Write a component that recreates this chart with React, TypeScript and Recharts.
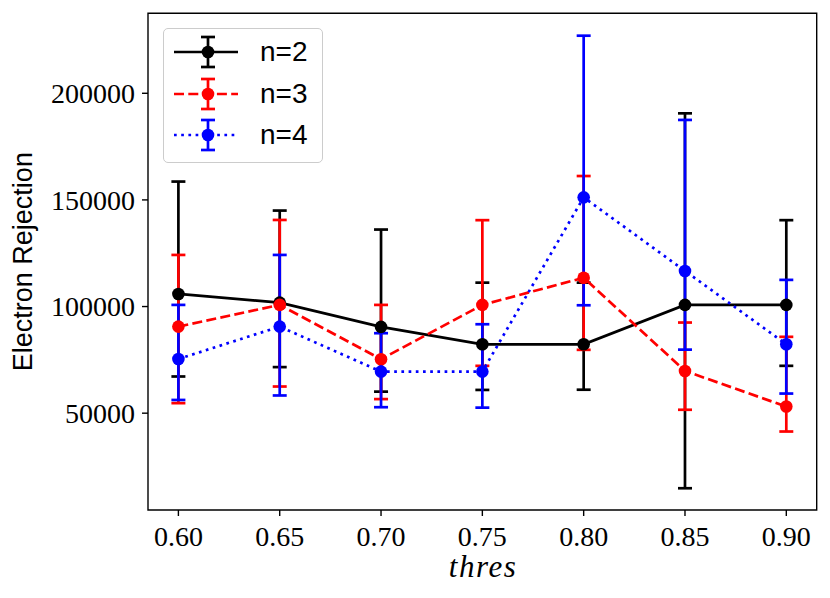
import { LineChart, Line, XAxis, YAxis, ErrorBar, Legend, ReferenceArea, Label } from 'recharts';

const thres = [0.6, 0.65, 0.7, 0.75, 0.8, 0.85, 0.9];

const n2 = [105900, 101840, 90450, 82300, 82300, 100770, 100770];
const n2Low = [67200, 71600, 60100, 60900, 61000, 14800, 72200];
const n2High = [158600, 145000, 136100, 111200, 111200, 190600, 140500];

const n3 = [90600, 100770, 75300, 100770, 113500, 69800, 53100];
const n3Low = [54700, 62500, 56600, 72200, 79700, 51600, 41400];
const n3High = [124200, 140600, 100770, 140500, 161200, 92500, 85800];

const n4 = [75400, 90600, 69500, 69500, 151200, 116700, 82300];
const n4Low = [56200, 58300, 52800, 52600, 100600, 79800, 59200];
const n4High = [100770, 124200, 87500, 91700, 227000, 187500, 112500];

const xTicks = [0.6, 0.65, 0.7, 0.75, 0.8, 0.85, 0.9];
const yTicks = [50000, 100000, 150000, 200000];
const xDomain = [0.585, 0.915];
const yDomain = [4600, 237500];

const series = [
  { key: 'n2', name: 'n=2', color: '#000000', dash: undefined },
  { key: 'n3', name: 'n=3', color: '#ff0000', dash: '10 4.3' },
  { key: 'n4', name: 'n=4', color: '#0000ff', dash: '2.7 4.5' },
];

const data = thres.map((t, i) => ({
  thres: t,
  n2: n2[i],
  n2Err: [n2[i] - n2Low[i], n2High[i] - n2[i]],
  n3: n3[i],
  n3Err: [n3[i] - n3Low[i], n3High[i] - n3[i]],
  n4: n4[i],
  n4Err: [n4[i] - n4Low[i], n4High[i] - n4[i]],
}));

const serif = '"Liberation Serif", "Times New Roman", serif';
const sans = '"Liberation Sans", Arial, sans-serif';
const LW = 2.7;
const R = 6.3;

const LegendBox = () => (
  <div
    style={{
      width: 158,
      height: 133,
      border: '1px solid #cccccc',
      borderRadius: 5,
      background: 'rgba(255,255,255,0.8)',
      position: 'relative',
    }}
  >
    {series.map((s, i) => (
      <div key={s.key} style={{ position: 'absolute', left: 0, top: 2 + i * 41.5, height: 42, width: 158 }}>
        <svg width={90} height={42} style={{ position: 'absolute', left: 0, top: 0 }}>
          <line x1={44} x2={44} y1={6} y2={36} stroke={s.color} strokeWidth={LW} />
          <line x1={37} x2={51} y1={6} y2={6} stroke={s.color} strokeWidth={LW} />
          <line x1={37} x2={51} y1={36} y2={36} stroke={s.color} strokeWidth={LW} />
          <line x1={10} x2={74} y1={21} y2={21} stroke={s.color} strokeWidth={LW} strokeDasharray={s.dash} />
          <circle cx={44} cy={21} r={R} fill={s.color} />
        </svg>
        <span
          style={{
            position: 'absolute',
            left: 96,
            top: 4,
            fontFamily: sans,
            fontSize: 28,
            lineHeight: '34px',
            color: '#000',
          }}
        >
          {s.name}
        </span>
      </div>
    ))}
  </div>
);

export default function App() {
  return (
    <div style={{ position: 'absolute', left: 0, top: 0, width: 830, height: 598, background: '#fff' }}>
      <LineChart width={830} height={598} data={data} margin={{ top: 13.3, right: 13.3, bottom: 0, left: 0 }}>
        <XAxis
          dataKey="thres"
          type="number"
          domain={xDomain}
          ticks={xTicks}
          tickFormatter={(v: number) => v.toFixed(2)}
          allowDataOverflow
          height={88}
          axisLine={false}
          tickLine={{ stroke: '#000', strokeWidth: 1.4 }}
          tickSize={6}
          tickMargin={10}
          tick={{ fill: '#000', fontFamily: serif, fontSize: 28 }}
          interval={0}
        >
          <Label
            content={({ viewBox }: any) => (
              <text
                x={viewBox.x + viewBox.width / 2}
                y={viewBox.y + 67}
                textAnchor="middle"
                fontFamily={serif}
                fontStyle="italic"
                fontSize={31}
                textLength={67}
                fill="#000"
              >
                thres
              </text>
            )}
          />
        </XAxis>
        <YAxis
          type="number"
          domain={yDomain}
          ticks={yTicks}
          allowDataOverflow
          width={148}
          axisLine={false}
          tickLine={{ stroke: '#000', strokeWidth: 1.4 }}
          tickSize={6}
          tickMargin={7}
          tick={{ fill: '#000', fontFamily: serif, fontSize: 28 }}
          interval={0}
        >
          <Label
            content={({ viewBox }: any) => {
              const cx = 23;
              const cy = viewBox.y + viewBox.height / 2;
              return (
                <text
                  x={cx}
                  y={cy}
                  transform={`rotate(-90 ${cx} ${cy})`}
                  textAnchor="middle"
                  dominantBaseline="central"
                  fontFamily={sans}
                  fontSize={27}
                  fill="#000"
                >
                  Electron Rejection
                </text>
              );
            }}
          />
        </YAxis>
        {series.map((s) => (
          <Line
            key={s.key + 'err'}
            dataKey={s.key}
            stroke="none"
            dot={false}
            activeDot={false}
            legendType="none"
            isAnimationActive={false}
          >
            <ErrorBar dataKey={s.key + 'Err'} direction="y" width={7} stroke={s.color} strokeWidth={LW} isAnimationActive={false} />
          </Line>
        ))}
        {series.map((s) => (
          <Line
            key={s.key}
            dataKey={s.key}
            name={s.name}
            stroke={s.color}
            strokeWidth={LW}
            strokeDasharray={s.dash}
            dot={{ r: R, fill: s.color, stroke: 'none' }}
            activeDot={false}
            isAnimationActive={false}
          />
        ))}
        <ReferenceArea
          x1={xDomain[0]}
          x2={xDomain[1]}
          y1={yDomain[0]}
          y2={yDomain[1]}
          fill="none"
          fillOpacity={0}
          stroke="#000"
          strokeWidth={1.4}
          ifOverflow="visible"
        />
        <Legend
          layout="vertical"
          align="center"
          verticalAlign="middle"
          content={() => <LegendBox />}
          wrapperStyle={{ left: 163, top: 28, width: 160, height: 135 }}
        />
      </LineChart>
    </div>
  );
}
